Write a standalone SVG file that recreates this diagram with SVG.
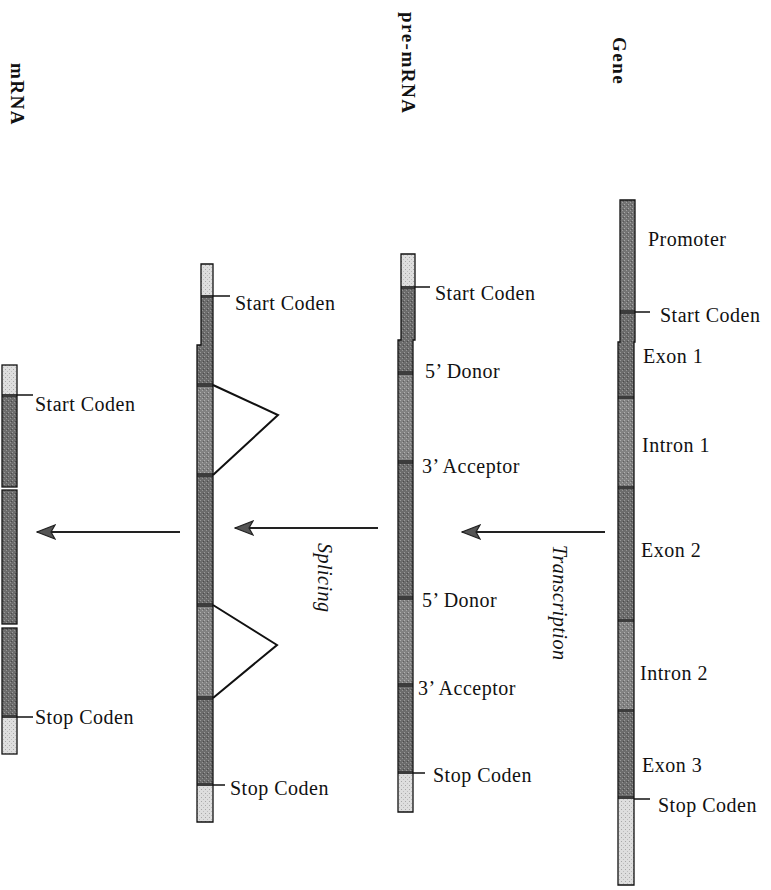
<svg xmlns="http://www.w3.org/2000/svg" width="771" height="890" viewBox="0 0 771 890">
<style>
  .lbl{font-family:"Liberation Serif","Times New Roman",serif;font-size:20px;letter-spacing:0.5px;fill:#111}
  .ttl{font-family:"Liberation Serif","Times New Roman",serif;font-size:19px;font-weight:bold;letter-spacing:1.5px;fill:#111}
  .it{font-family:"Liberation Serif","Times New Roman",serif;font-size:20px;font-style:italic;letter-spacing:0.5px;fill:#111}
  .ex{fill:url(#pEx)}
  .in{fill:url(#pIn)}
  .pr{fill:url(#pPr)}
  .ut{fill:url(#pUt)}
  .band{fill:#3c3c3c}
  .outl{fill:none;stroke:#111;stroke-width:1.3}
  .tick{stroke:#111;stroke-width:1.5}
  .lasso{fill:none;stroke:#111;stroke-width:2;stroke-linejoin:miter}
  .arr{stroke:#222;stroke-width:2;fill:none;marker-end:url(#ah)}
</style>
<defs>
  <pattern id="pEx" width="4" height="4" patternUnits="userSpaceOnUse">
    <rect width="4" height="4" fill="#6c6c6c"/>
    <rect x="0" y="0" width="1" height="1" fill="#9a9a9a"/>
    <rect x="2" y="2" width="1" height="1" fill="#959595"/>
    <rect x="3" y="1" width="1" height="1" fill="#4a4a4a"/>
  </pattern>
  <pattern id="pIn" width="4" height="4" patternUnits="userSpaceOnUse">
    <rect width="4" height="4" fill="#828282"/>
    <rect x="0" y="0" width="1" height="1" fill="#b0b0b0"/>
    <rect x="2" y="2" width="1" height="1" fill="#aaaaaa"/>
    <rect x="3" y="1" width="1" height="1" fill="#5e5e5e"/>
  </pattern>
  <pattern id="pPr" width="4" height="4" patternUnits="userSpaceOnUse">
    <rect width="4" height="4" fill="#747474"/>
    <rect x="0" y="0" width="1" height="1" fill="#a8a8a8"/>
    <rect x="2" y="2" width="1" height="1" fill="#a0a0a0"/>
    <rect x="3" y="1" width="1" height="1" fill="#555"/>
  </pattern>
  <pattern id="pUt" width="4" height="4" patternUnits="userSpaceOnUse">
    <rect width="4" height="4" fill="#dedede"/>
    <rect x="1" y="1" width="1" height="1" fill="#a8a8a8"/>
    <rect x="3" y="3" width="1" height="1" fill="#bdbdbd"/>
  </pattern>
  <marker id="ah" markerWidth="20" markerHeight="16" refX="19" refY="8" orient="auto" markerUnits="userSpaceOnUse">
    <path d="M1,1 L19,8 L1,15 L5,8 Z" fill="#555" stroke="#222" stroke-width="1.2" stroke-linejoin="miter"/>
  </marker>
</defs>
<rect width="771" height="890" fill="#fff"/>

<!-- Titles -->
<g id="title-gene"><text class="ttl" transform="translate(613,37) rotate(90)">Gene</text></g>
<g id="title-premrna"><text class="ttl" transform="translate(402,12) rotate(90)">pre-mRNA</text></g>
<g id="title-mrna"><text class="ttl" transform="translate(11,63) rotate(90)">mRNA</text></g>

<!-- Gene -->
<g id="gene">
  <rect class="pr" x="620" y="200" width="15" height="142"/>
  <rect class="ex" x="618" y="342" width="16" height="55"/>
  <rect class="ex" x="620" y="312" width="15" height="30"/>
  <rect class="in" x="618" y="397" width="16" height="90"/>
  <rect class="ex" x="618" y="487" width="16" height="133"/>
  <rect class="in" x="618" y="620" width="16" height="90"/>
  <rect class="ex" x="618" y="710" width="16" height="88"/>
  <rect class="ut" x="618" y="798" width="16" height="87"/>
  <rect class="band" x="620" y="310" width="15" height="4"/>
  <rect class="band" x="618" y="396" width="16" height="3"/>
  <rect class="band" x="618" y="486" width="16" height="3"/>
  <rect class="band" x="618" y="619" width="16" height="3"/>
  <rect class="band" x="618" y="709" width="16" height="3"/>
  <rect class="band" x="618" y="796" width="16" height="3"/>
  <path class="outl" d="M620,200 H635 V342 H634 V885 H618 V342 H620 Z"/>
  <line class="tick" x1="635" y1="312" x2="650" y2="312"/>
  <line class="tick" x1="634" y1="799" x2="650" y2="799"/>
  <text class="lbl" x="648" y="246">Promoter</text>
  <text class="lbl" x="660" y="322">Start Coden</text>
  <text class="lbl" x="643" y="363">Exon 1</text>
  <text class="lbl" x="642" y="452">Intron 1</text>
  <text class="lbl" x="641" y="557">Exon 2</text>
  <text class="lbl" x="640" y="680">Intron 2</text>
  <text class="lbl" x="642" y="772">Exon 3</text>
  <text class="lbl" x="658" y="812">Stop Coden</text>
</g>

<!-- pre-mRNA -->
<g id="premrna">
  <rect class="ut" x="401" y="254" width="14" height="33"/>
  <rect class="ex" x="401" y="287" width="14" height="53"/>
  <rect class="ex" x="398" y="340" width="15" height="33"/>
  <rect class="in" x="398" y="373" width="15" height="89"/>
  <rect class="ex" x="398" y="462" width="15" height="136"/>
  <rect class="in" x="398" y="598" width="15" height="87"/>
  <rect class="ex" x="398" y="685" width="15" height="88"/>
  <rect class="ut" x="398" y="773" width="15" height="39"/>
  <rect class="band" x="401" y="286" width="14" height="3"/>
  <rect class="band" x="398" y="371" width="15" height="4"/>
  <rect class="band" x="398" y="460" width="15" height="4"/>
  <rect class="band" x="398" y="596" width="15" height="4"/>
  <rect class="band" x="398" y="683" width="15" height="4"/>
  <rect class="band" x="398" y="771" width="15" height="3"/>
  <path class="outl" d="M401,254 H415 V340 H413 V812 H398 V340 H401 Z"/>
  <line class="tick" x1="415" y1="287" x2="430" y2="287"/>
  <line class="tick" x1="413" y1="773" x2="425" y2="773"/>
  <text class="lbl" x="435" y="300">Start Coden</text>
  <text class="lbl" x="425" y="378">5’ Donor</text>
  <text class="lbl" x="422" y="473">3’ Acceptor</text>
  <text class="lbl" x="422" y="607">5’ Donor</text>
  <text class="lbl" x="418" y="695">3’ Acceptor</text>
  <text class="lbl" x="433" y="782">Stop Coden</text>
</g>

<!-- Splicing intermediate -->
<g id="spliced">
  <rect class="ut" x="201" y="264" width="12" height="32"/>
  <rect class="ex" x="201" y="296" width="12" height="49"/>
  <rect class="ex" x="197" y="345" width="16" height="40"/>
  <rect class="in" x="197" y="385" width="16" height="90"/>
  <rect class="ex" x="197" y="475" width="16" height="130"/>
  <rect class="in" x="197" y="605" width="16" height="93"/>
  <rect class="ex" x="197" y="698" width="16" height="87"/>
  <rect class="ut" x="197" y="785" width="16" height="37"/>
  <rect class="band" x="201" y="295" width="12" height="3"/>
  <rect class="band" x="197" y="383" width="16" height="4"/>
  <rect class="band" x="197" y="473" width="16" height="4"/>
  <rect class="band" x="197" y="603" width="16" height="4"/>
  <rect class="band" x="197" y="696" width="16" height="4"/>
  <rect class="band" x="197" y="783" width="16" height="3"/>
  <path class="outl" d="M201,264 H213 V822 H197 V345 H201 Z"/>
  <polyline class="lasso" points="213,385 278,415 213,475"/>
  <polyline class="lasso" points="213,605 277,645 213,698"/>
  <line class="tick" x1="213" y1="296" x2="230" y2="296"/>
  <line class="tick" x1="213" y1="785" x2="225" y2="785"/>
  <text class="lbl" x="235" y="310">Start Coden</text>
  <text class="lbl" x="230" y="795">Stop Coden</text>
</g>

<!-- mRNA -->
<g id="mrna">
  <rect class="ut" x="2" y="365" width="15" height="30"/>
  <rect class="ex" x="2" y="395" width="15" height="92"/>
  <rect class="ex" x="2" y="490" width="15" height="134"/>
  <rect class="ex" x="2" y="628" width="15" height="89"/>
  <rect class="ut" x="2" y="717" width="15" height="37"/>
  <rect class="band" x="2" y="394" width="15" height="3"/>
  <rect class="band" x="2" y="715" width="15" height="3"/>
  <rect class="outl" x="2" y="365" width="15" height="122"/>
  <rect class="outl" x="2" y="490" width="15" height="134"/>
  <rect class="outl" x="2" y="628" width="15" height="126"/>
  <line class="tick" x1="17" y1="395" x2="33" y2="395"/>
  <line class="tick" x1="17" y1="717" x2="33" y2="717"/>
  <text class="lbl" x="35" y="411">Start Coden</text>
  <text class="lbl" x="35" y="724">Stop Coden</text>
</g>

<!-- Connectors -->
<g id="connectors">
  <line class="arr" x1="605" y1="532" x2="462" y2="532"/>
  <line class="arr" x1="378" y1="528" x2="235" y2="528"/>
  <line class="arr" x1="180" y1="532" x2="37" y2="532"/>
</g>
<g id="conn-labels">
  <text class="it" transform="translate(553,545) rotate(90)">Transcription</text>
  <text class="it" transform="translate(318,543) rotate(90)">Splicing</text>
</g>
</svg>
